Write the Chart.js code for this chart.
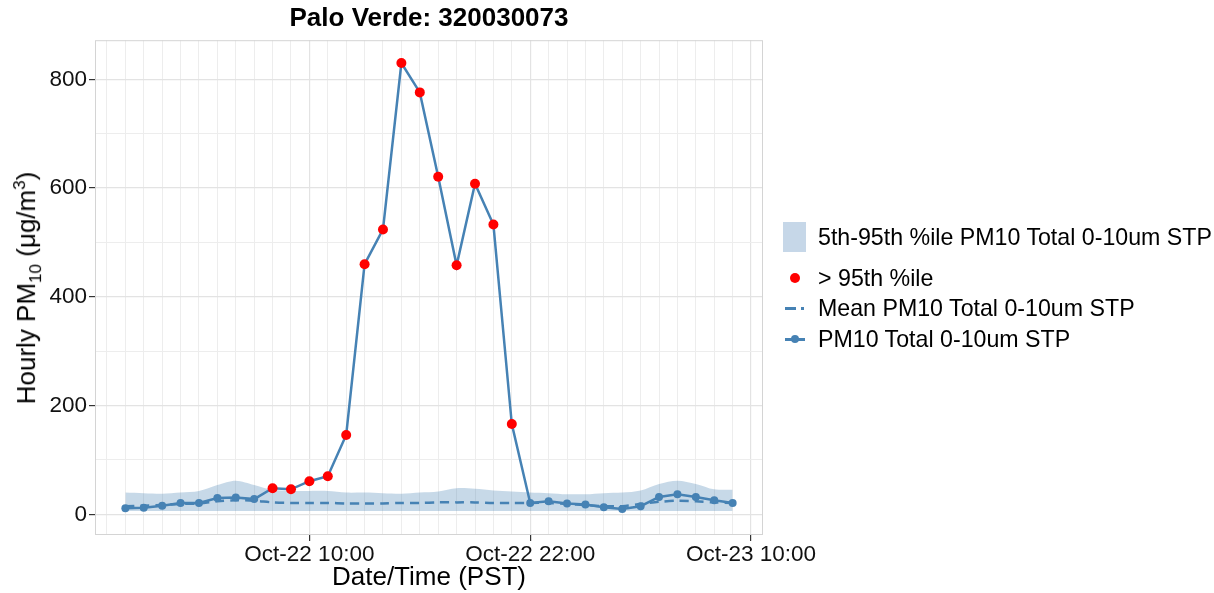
<!DOCTYPE html>
<html>
<head>
<meta charset="utf-8">
<script src="https://cdn.jsdelivr.net/npm/chart.js@4"></script>
<style>
  body { margin: 0; background: #fff; font-family: "Liberation Sans", Arial, sans-serif; }
  #wrap { position: relative; width: 1214px; height: 593px; }
  #chart { position: absolute; left: 0; top: 0; }
  #ytitle { position: absolute; left: 28px; top: 288px; transform: translate(-50%, -50%) rotate(-90deg);
    font-size: 26px; color: #000; white-space: nowrap; }
  #ytitle sub, #ytitle sup { font-size: 17px; }
  .leg { position: absolute; left: 783px; font-size: 23.2px; color: #000; }
  .leg .row { position: absolute; left: 0; height: 30px; display: flex; align-items: center; white-space: nowrap; }
  .leg .key { width: 24px; height: 30px; position: relative; margin-right: 11px; }
</style>
</head>
<body>
<div id="wrap">
  <canvas id="chart" width="858" height="593"></canvas>
  <div id="ytitle">Hourly PM<sub>10</sub> (μg/m<sup>3</sup>)</div>
  <div class="leg" id="legend"></div>
</div>
<script>
// hours since Oct-22 00:00 (PST)
const timeLabels = [
  "Oct-22 00:00","Oct-22 01:00","Oct-22 02:00","Oct-22 03:00","Oct-22 04:00","Oct-22 05:00",
  "Oct-22 06:00","Oct-22 07:00","Oct-22 08:00","Oct-22 09:00","Oct-22 10:00","Oct-22 11:00",
  "Oct-22 12:00","Oct-22 13:00","Oct-22 14:00","Oct-22 15:00","Oct-22 16:00","Oct-22 17:00",
  "Oct-22 18:00","Oct-22 19:00","Oct-22 20:00","Oct-22 21:00","Oct-22 22:00","Oct-22 23:00",
  "Oct-23 00:00","Oct-23 01:00","Oct-23 02:00","Oct-23 03:00","Oct-23 04:00","Oct-23 05:00",
  "Oct-23 06:00","Oct-23 07:00","Oct-23 08:00","Oct-23 09:00"
];
const pm10 = [11,12,16,21,21,30,31,28,48,46,61,70,146,460,524,830,776,621,458,608,533,166,21,24,20,18,13,10,15,32,37,32,26,21];
const meanPm10 = [15,16,17,19,20,24,26,25,22,21,21,21,20,20,20,21,21,22,22,22,21,21,21,21,19,17,15,15,19,23,25,24,22,21];
const p95 = [40,39,38,40,43,54,62,54,45,43,43,43,40,40,39,38,40,42,48,47,44,42,40,39,37,37,39,40,44,56,62,56,46,45];
const p5 = [6,6,6,6,6,6,6,6,6,6,6,6,6,6,6,6,6,6,6,6,6,6,6,6,6,6,6,6,6,6,6,6,6,6];

const xTickHours = [10, 22, 34];
const xTickLabels = ["Oct-22 10:00", "Oct-22 22:00", "Oct-23 10:00"];
const yTicks = [0, 200, 400, 600, 800];

const steel = "#4682B4";
const bandColor = "rgba(70,130,180,0.3)";
const font = "Liberation Sans, Arial";

const pts = arr => arr.map((v, i) => ({ x: i, y: v }));
const exceed = pts(pm10).filter(p => p.y > p95[p.x]);

const panelBorder = {
  id: "panelBorder",
  beforeDatasetsDraw(chart) {
    const { ctx, chartArea: a } = chart;
    ctx.save();
    ctx.strokeStyle = "#D4D4D4";
    ctx.lineWidth = 1;
    ctx.strokeRect(a.left + 0.5, a.top + 0.5, a.right - a.left - 1, a.bottom - a.top - 1);
    ctx.restore();
  }
};

const isMajor = (c, list) => c.tick && list.includes(c.tick.value);

new Chart(document.getElementById("chart"), {
  type: "line",
  data: {
    datasets: [
      { label: "> 95th %ile", data: exceed, showLine: false, pointRadius: 5, pointBackgroundColor: "#FF0000",
        pointBorderWidth: 0, borderColor: "#FF0000", order: 0 },
      { label: "PM10 Total 0-10um STP", data: pts(pm10), borderColor: steel, borderWidth: 2.5,
        pointRadius: 4, pointBackgroundColor: steel, pointBorderWidth: 0, tension: 0, order: 1 },
      { label: "Mean PM10 Total 0-10um STP", data: pts(meanPm10), borderColor: steel, borderWidth: 2.5,
        borderDash: [9, 6], pointRadius: 0, tension: 0.3, order: 2 },
      { label: "5th-95th %ile PM10 Total 0-10um STP", data: pts(p95), borderWidth: 0, borderColor: "transparent",
        backgroundColor: bandColor, fill: "+1", pointRadius: 0, tension: 0.3, order: 3 },
      { label: "p5", data: pts(p5), borderWidth: 0, borderColor: "transparent", pointRadius: 0, tension: 0.3, order: 4 }
    ]
  },
  options: {
    responsive: false,
    animation: false,
    layout: { padding: { left: 0, right: 95, top: 0, bottom: 0 } },
    plugins: {
      legend: { display: false },
      tooltip: { enabled: false },
      title: {
        display: true, fullSize: false, text: "Palo Verde: 320030073", color: "#000",
        font: { family: font, size: 26, weight: "bold" },
        padding: { top: 3, bottom: 6 }
      }
    },
    scales: {
      x: {
        type: "linear", min: -1.65, max: 34.65,
        afterBuildTicks: s => {
          const t = [{ value: -1 }];
          timeLabels.forEach((_, i) => t.push({ value: i }));
          t.push({ value: 34 });
          s.ticks = t;
        },
        afterFit: s => { s.height = 58; },
        border: { display: false },
        grid: {
          color: c => isMajor(c, xTickHours) ? "#E3E3E3" : "#EDEDED",
          lineWidth: c => isMajor(c, xTickHours) ? 1.2 : 1,
          tickColor: c => isMajor(c, xTickHours) ? "#333" : "transparent",
          tickLength: 6
        },
        ticks: {
          autoSkip: false, maxRotation: 0, padding: 0, color: "#111",
          font: { family: font, size: 22.5 },
          callback: v => { const k = xTickHours.indexOf(v); return k >= 0 ? xTickLabels[k] : ""; }
        },
        title: { display: true, text: "Date/Time (PST)", color: "#000", padding: 0,
          font: { family: font, size: 26 } }
      },
      y: {
        min: -38, max: 872,
        afterBuildTicks: s => { const t = []; for (let v = 0; v <= 800; v += 100) t.push({ value: v }); s.ticks = t; },
        afterFit: s => { s.width = 95; },
        border: { display: false },
        grid: {
          color: c => isMajor(c, yTicks) ? "#E3E3E3" : "#EDEDED",
          lineWidth: c => isMajor(c, yTicks) ? 1.2 : 1,
          tickColor: c => isMajor(c, yTicks) ? "#333" : "transparent",
          tickLength: 6
        },
        ticks: {
          autoSkip: false, padding: 2, color: "#111",
          font: { family: font, size: 22.5 },
          callback: v => yTicks.includes(v) ? String(v) : ""
        }
      }
    }
  },
  plugins: [panelBorder]
});

// legend (HTML text)
const legendRows = [
  { y: 222, text: "5th-95th %ile PM10 Total 0-10um STP", key: '<div style="position:absolute;left:0;top:0;width:23px;height:30px;background:#C6D7E8"></div>' },
  { y: 263, text: "> 95th %ile", key: '<div style="position:absolute;left:7px;top:10px;width:10px;height:10px;border-radius:50%;background:#FF0000"></div>' },
  { y: 293, text: "Mean PM10 Total 0-10um STP", key: '<div style="position:absolute;left:2px;top:14px;width:11px;height:2.5px;background:' + steel + '"></div><div style="position:absolute;left:18px;top:14px;width:2.5px;height:2.5px;background:' + steel + '"></div>' },
  { y: 324, text: "PM10 Total 0-10um STP", key: '<div style="position:absolute;left:2px;top:14px;width:20px;height:2.5px;background:' + steel + '"></div><div style="position:absolute;left:8px;top:11px;width:8px;height:8px;border-radius:50%;background:' + steel + '"></div>' }
];
document.getElementById("legend").innerHTML = legendRows.map(r =>
  `<div class="row" style="top:${r.y}px"><div class="key">${r.key}</div><span>${r.text}</span></div>`).join("");
</script>
</body>
</html>
